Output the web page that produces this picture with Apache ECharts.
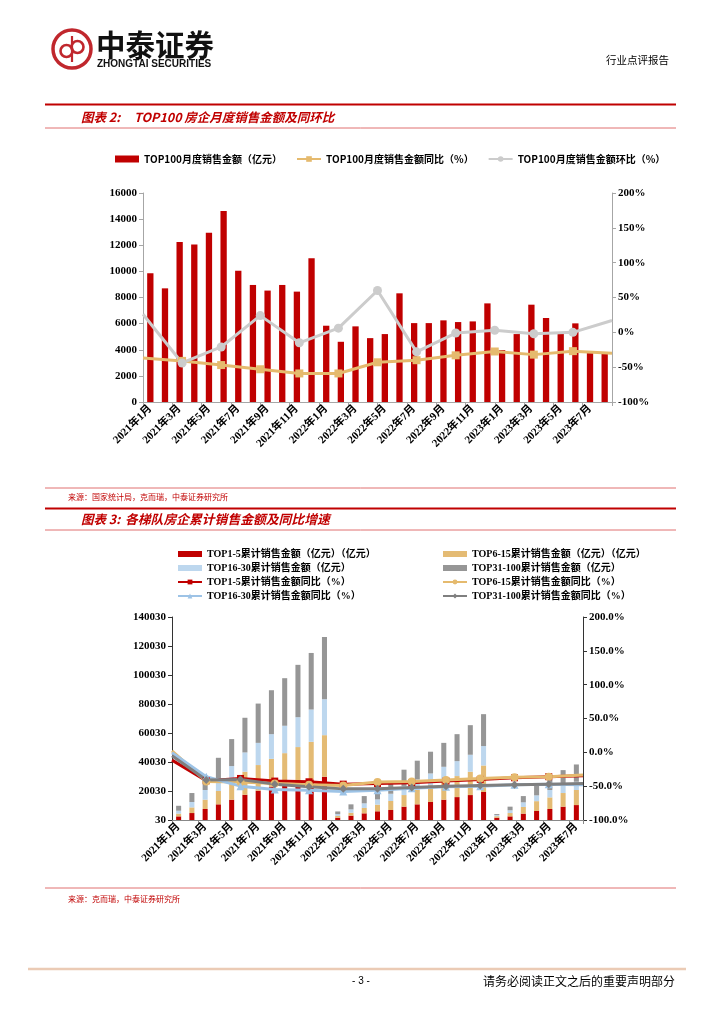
<!DOCTYPE html>
<html><head><meta charset="utf-8">
<script src="https://cdn.jsdelivr.net/npm/echarts@6/dist/echarts.min.js"></script>
<style>html,body{margin:0;padding:0;background:#fff}#c{width:724px;height:1024px}</style>
</head><body><div id="c"></div><script>
// ---------- Chart 1 data ----------
const months1 = ['2021年1月','2021年2月','2021年3月','2021年4月','2021年5月','2021年6月','2021年7月','2021年8月','2021年9月','2021年10月','2021年11月','2021年12月',
  '2022年1月','2022年2月','2022年3月','2022年4月','2022年5月','2022年6月','2022年7月','2022年8月','2022年9月','2022年10月','2022年11月','2022年12月',
  '2023年1月','2023年2月','2023年3月','2023年4月','2023年5月','2023年6月','2023年7月','2023年8月'];
const top100Sales = [9860,8700,12240,12060,12950,14620,10040,8960,8530,8960,8450,11010,
  5840,4610,5790,4890,5200,8320,6040,6040,6250,6120,6170,7550,
  3970,5200,7450,6430,5300,6020,3840,3790];
const lineSlots = ['1','2','3','4','5','6','7','8','9','10','11','12','13'];
const top100Yoy = [-37,-41,-47,-53,-59,-59,-43,-40,-33,-27.5,-32,-27,-30];
const top100Mom = [26,-44,-21,24,-15,6,60,-28,-1,3,-2,0,17];
const leftTicks1 = {min:0, max:16000, interval:2000};
const pctTicks = {min:-100, max:200, interval:50};

// ---------- Chart 2 data ----------
const months2 = ['2021年1月','2021年2月','2021年3月','2021年4月','2021年5月','2021年6月','2021年7月','2021年8月','2021年9月','2021年10月','2021年11月','2021年12月',
  '2022年1月','2022年2月','2022年3月','2022年4月','2022年5月','2022年6月','2022年7月','2022年8月','2022年9月','2022年10月','2022年11月','2022年12月',
  '2023年1月','2023年2月','2023年3月','2023年4月','2023年5月','2023年6月','2023年7月'];
const top1to5 = [2500,4800,7600,10800,14000,17400,20200,23000,25300,27000,28000,29800,1600,3000,4600,6000,6900,9200,10800,12400,14000,15800,17200,19300,1600,2500,4400,6200,7600,9200,10300];
const top6to15 = [1900,3900,6400,9200,12500,15900,17700,19200,20800,23300,25900,28700,1200,2000,3700,4600,6200,8000,9900,11700,13300,14500,16100,18300,1000,2300,4600,6800,8000,9400,10400];
const top16to30 = [2000,3700,6700,8700,10700,13300,15300,17000,18900,20600,22300,24800,1300,2300,3200,3600,5000,6300,7300,8000,9400,10300,11700,13400,800,1900,3200,4000,5100,5500,5700];
const top31to100 = [3400,6200,10100,14200,18600,23900,27100,30300,32800,36100,39000,42900,1800,3500,5000,6900,7900,11200,12900,15000,16500,18600,20400,22000,700,2500,4300,7000,7300,10300,11900];
const yoy1to5 = [-11.5,-42,-38.6,-42.5,-43.5,-47,-46,-45,-42.5,-40,-37.6,-36,-34.6];
const yoy6to15 = [2.3,-43,-44,-46,-48,-49,-44,-43,-41,-38.6,-37,-36,-33.6];
const yoy16to30 = [-0.7,-36,-50,-55,-56,-58,-56,-53,-51,-50,-48,-47,-48];
const yoy31to100 = [-5,-41,-40,-47,-51,-54,-54,-52,-50,-49,-48,-47,-46];
const leftTicks2 = {min:0, max:140000, interval:20000, offset:30};

// ---------- names ----------
const N1 = ['TOP100月度销售金额（亿元）','TOP100月度销售金额同比（%）','TOP100月度销售金额环比（%）'];
const N2 = ['TOP1-5累计销售金额（亿元）（亿元）','TOP6-15累计销售金额（亿元）（亿元）','TOP16-30累计销售金额（亿元）','TOP31-100累计销售金额（亿元）',
  'TOP1-5累计销售金额同比（%）','TOP6-15累计销售金额同比（%）','TOP16-30累计销售金额同比（%）','TOP31-100累计销售金额同比（%）'];

const SERIF = "'Liberation Serif','Noto Sans CJK SC',serif";
const CJK = "'Noto Sans CJK SC',sans-serif";
const RED = '#C00000';

function edgeless(arr){ return arr.map((v,i)=> (i===0||i===arr.length-1) ? {value:v, symbol:'none'} : v); }

function yAxisBase(grid, pos, ticks, fmt, lineColor){
  return {type:'value', gridIndex:grid, position:pos, min:ticks.min, max:ticks.max, interval:ticks.interval,
    splitLine:{show:false},
    axisLine:{show:true, lineStyle:{color:lineColor, width:1}},
    axisTick:{show:true, length:4, lineStyle:{color:lineColor}},
    axisLabel:{formatter:fmt, color:'#000', fontFamily:SERIF, fontWeight:'bold', fontSize:11, margin:6}};
}
function xCat(grid, data, lineColor){
  return {type:'category', gridIndex:grid, data:data, boundaryGap:true,
    axisLine:{show:true, lineStyle:{color:lineColor}},
    axisTick:{show:true, interval:1, length:4, alignWithLabel:false, lineStyle:{color:lineColor}},
    axisLabel:{interval:1, rotate:45, margin:5, color:'#000', fontFamily:SERIF, fontWeight:'bold', fontSize:11}};
}
function xHidden(grid){
  return {type:'category', gridIndex:grid, data:lineSlots, boundaryGap:false, show:false};
}

const chart = echarts.init(document.getElementById('c'), null, {renderer:'canvas'});

const hline = (y, x1, x2, color, w) => ({type:'line', shape:{x1:x1, y1:y, x2:x2, y2:y}, style:{stroke:color, lineWidth:w}, silent:true});
const txt = (x, y, text, font, fill, align) => ({type:'text', x:x, y:y, style:{text:text, font:font, fill:fill, textAlign:align||'left', textVerticalAlign:'middle'}, silent:true});

const option = {
  backgroundColor:'#fff',
  animation:false,
  graphic:[
    // logo
    {type:'circle', shape:{cx:72, cy:49, r:19}, style:{fill:'none', stroke:'#C0272D', lineWidth:3.5}},
    {type:'circle', shape:{cx:66.5, cy:51, r:6}, style:{fill:'none', stroke:'#C0272D', lineWidth:2.6}},
    {type:'circle', shape:{cx:77.5, cy:47, r:6}, style:{fill:'none', stroke:'#C0272D', lineWidth:2.6}},
    {type:'line', shape:{x1:72, y1:36, x2:72, y2:62}, style:{stroke:'#C0272D', lineWidth:2.2}},
    txt(96, 45, '中泰证券', "bold 29.5px 'Noto Sans CJK SC'", '#111'),
    txt(97, 64, 'ZHONGTAI SECURITIES', "bold 10px 'Liberation Sans'", '#111'),
    txt(669, 60, '行业点评报告', "10.5px 'Noto Sans CJK SC'", '#000', 'right'),
    // title 2
    hline(104.5, 45, 676, RED, 2),
    txt(81, 117, '图表 2:', "italic bold 12.5px 'Noto Sans CJK SC'", RED),
    txt(134, 117, 'TOP100 房企月度销售金额及同环比', "italic bold 12.5px 'Noto Sans CJK SC'", RED),
    hline(128, 45, 676, '#E07070', 1),
    // source 1
    hline(488, 45, 676, '#E07070', 1),
    txt(68, 497, '来源：国家统计局，克而瑞，中泰证券研究所', "8px 'Noto Sans CJK SC'", RED),
    // title 3
    hline(508.5, 45, 676, RED, 2),
    txt(81, 519, '图表 3:', "italic bold 12.5px 'Noto Sans CJK SC'", RED),
    txt(125, 519, '各梯队房企累计销售金额及同比增速', "italic bold 12.8px 'Noto Sans CJK SC'", RED),
    hline(530, 45, 676, '#E07070', 1),
    // source 2
    hline(888, 45, 676, '#E07070', 1),
    txt(68, 899, '来源：克而瑞，中泰证券研究所', "8px 'Noto Sans CJK SC'", RED),
    // footer
    hline(969, 28, 686, '#EBCBB5', 2.5),
    txt(361, 981, '- 3 -', "10px 'Liberation Sans'", '#000', 'center'),
    txt(675, 981, '请务必阅读正文之后的重要声明部分', "12px 'Noto Sans CJK SC'", '#000', 'right')
  ],
  legend:[
    {left:110, top:149, itemWidth:24, itemHeight:7, itemGap:14,
      textStyle:{fontFamily:CJK, fontWeight:'bold', fontSize:10, color:'#000'},
      data:[{name:N1[0], icon:'rect'}, {name:N1[1]}, {name:N1[2]}]},
    {left:172, top:544, orient:'vertical', itemWidth:24, itemHeight:6, itemGap:4,
      textStyle:{fontFamily:SERIF, fontWeight:'bold', fontSize:10, lineHeight:10, color:'#000'},
      data:[{name:N2[0], icon:'rect'}, {name:N2[2], icon:'rect'}, {name:N2[4]}, {name:N2[6]}]},
    {left:437, top:544, orient:'vertical', itemWidth:24, itemHeight:6, itemGap:4,
      textStyle:{fontFamily:SERIF, fontWeight:'bold', fontSize:10, lineHeight:10, color:'#000'},
      data:[{name:N2[1], icon:'rect'}, {name:N2[3], icon:'rect'}, {name:N2[5]}, {name:N2[7]}]}
  ],
  grid:[
    {left:143, top:193, width:469, height:209},
    {left:172, top:617, width:411, height:203}
  ],
  xAxis:[
    xCat(0, months1, '#A6A6A6'),
    xHidden(0),
    xCat(1, months2, '#888'),
    xHidden(1)
  ],
  yAxis:[
    yAxisBase(0, 'left', leftTicks1, v => String(v), '#A6A6A6'),
    yAxisBase(0, 'right', pctTicks, v => v + '%', '#A6A6A6'),
    yAxisBase(1, 'left', leftTicks2, v => String(v + leftTicks2.offset), '#333'),
    yAxisBase(1, 'right', pctTicks, v => v.toFixed(1) + '%', '#333')
  ],
  series:[
    {name:N1[0], type:'bar', xAxisIndex:0, yAxisIndex:0, data:top100Sales, barWidth:'43%', itemStyle:{color:RED}},
    {name:N1[1], type:'line', xAxisIndex:1, yAxisIndex:1, data:edgeless(top100Yoy), symbol:'rect', symbolSize:8,
      lineStyle:{width:3, color:'#E5BA6E'}, itemStyle:{color:'#E5BA6E'}, z:3},
    {name:N1[2], type:'line', xAxisIndex:1, yAxisIndex:1, data:edgeless(top100Mom), symbol:'circle', symbolSize:9,
      lineStyle:{width:3, color:'#CCCCCC'}, itemStyle:{color:'#CCCCCC'}, z:3},

    {name:N2[0], type:'bar', stack:'cum', xAxisIndex:2, yAxisIndex:2, data:top1to5, barWidth:'38%', itemStyle:{color:RED}},
    {name:N2[1], type:'bar', stack:'cum', xAxisIndex:2, yAxisIndex:2, data:top6to15, itemStyle:{color:'#E4BB74'}},
    {name:N2[2], type:'bar', stack:'cum', xAxisIndex:2, yAxisIndex:2, data:top16to30, itemStyle:{color:'#BDD7EE'}},
    {name:N2[3], type:'bar', stack:'cum', xAxisIndex:2, yAxisIndex:2, data:top31to100, itemStyle:{color:'#969696'}},
    {name:N2[4], type:'line', xAxisIndex:3, yAxisIndex:3, data:edgeless(yoy1to5), symbol:'rect', symbolSize:7,
      lineStyle:{width:3, color:RED}, itemStyle:{color:RED}, z:3},
    {name:N2[5], type:'line', xAxisIndex:3, yAxisIndex:3, data:edgeless(yoy6to15), symbol:'circle', symbolSize:8,
      lineStyle:{width:3, color:'#E5BA6E'}, itemStyle:{color:'#E5BA6E'}, z:3},
    {name:N2[6], type:'line', xAxisIndex:3, yAxisIndex:3, data:edgeless(yoy16to30), symbol:'triangle', symbolSize:8,
      lineStyle:{width:3, color:'#9DC3E6'}, itemStyle:{color:'#9DC3E6'}, z:3},
    {name:N2[7], type:'line', xAxisIndex:3, yAxisIndex:3, data:edgeless(yoy31to100), symbol:'diamond', symbolSize:8,
      lineStyle:{width:3, color:'#7F7F7F'}, itemStyle:{color:'#7F7F7F'}, z:3}
  ]
};
chart.setOption(option);
</script></body></html>
